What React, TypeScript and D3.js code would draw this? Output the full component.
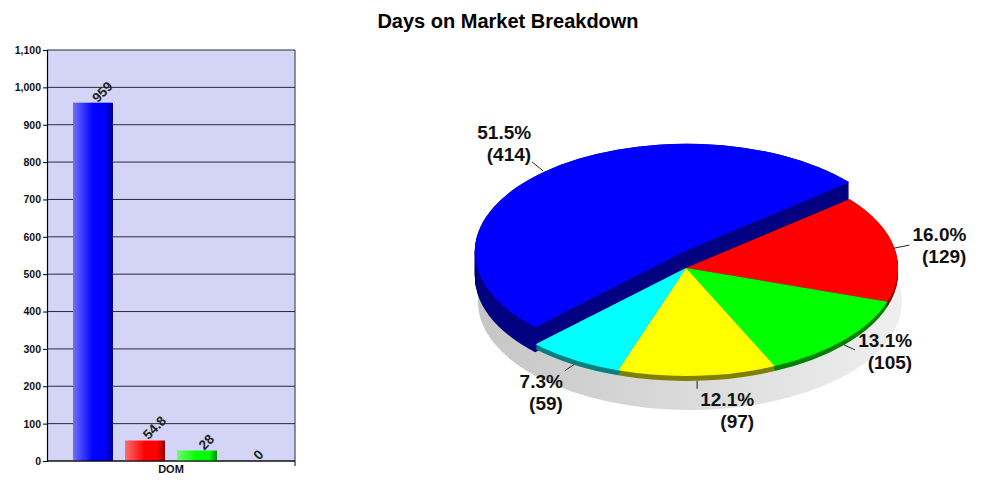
import React, { useRef, useEffect } from "react";
import * as d3 from "d3";

const WIDTH = 983;
const HEIGHT = 480;
const FONT = "'Liberation Sans', Arial, sans-serif";

const TITLE = "Days on Market Breakdown";

// bar panel
const barCategory = "DOM";
const barSeries = ["Series 1", "Series 2", "Series 3", "Series 4"];
const barValues = [959, 54.8, 28, 0];
const barColors = [
  ["#7070f8", "#0000ff", "#000090"],
  ["#f87070", "#ff0000", "#900000"],
  ["#70f870", "#00ff00", "#009000"],
  ["#7070f8", "#0000ff", "#000090"],
];

// pie panel
const pieValues = [129, 105, 97, 59, 414];
const piePercents = ["16.0%", "13.1%", "12.1%", "7.3%", "51.5%"];
const pieTop = ["#ff0000", "#00ff00", "#ffff00", "#00ffff", "#0000ff"];
const pieSide = ["#8b0000", "#008000", "#808000", "#008080", "#000080"];

const plot = { left: 47, right: 295, top: 50, bottom: 461 };
const pie3d = { cx: 686, cy: 268, rx: 212, ry: 108, depth: 5 };
const blueLift = { dx: -0.5, dy: -17, depth: 25 };
const shadow = { cx: 690, cy: 302 };
const START_ANGLE = (50.5 * Math.PI) / 180;

// leader end offset from the slice's mid point, and label anchor from that end
const labelLayout = [
  { lead: [15, -3], text: [57, -4] },
  { lead: [11, 5], text: [57, -3] },
  { lead: [0, 8], text: [57, 17] },
  { lead: [-9, 6], text: [-2, 17] },
  { lead: [-11, -9], text: [-1, -23] },
];

const App = () => {
  const yAxisRef = useRef<SVGGElement>(null);

  const y = d3.scaleLinear().domain([0, 1100]).range([plot.bottom, plot.top]);
  const x = d3
    .scaleBand()
    .domain(barSeries)
    .range([plot.left, plot.right])
    .paddingInner(12 / 52)
    .paddingOuter(0.5);

  useEffect(() => {
    const g = d3.select(yAxisRef.current);
    g.call(d3.axisLeft(y).ticks(11).tickFormat(d3.format(",")).tickSize(4).tickPadding(2));
    g.select(".domain").attr("stroke", "#000").attr("stroke-width", 1.2);
    g.selectAll(".tick line").attr("stroke", "#000");
    g.selectAll(".tick text")
      .attr("fill", "#111")
      .style("font", `bold 10.5px ${FONT}`);
  });

  const arcs = d3
    .pie<number>()
    .sort(null)
    .startAngle(START_ANGLE)
    .endAngle(START_ANGLE + Math.PI * 2)(pieValues);

  const unitArc = d3.arc<d3.PieArcDatum<number>>().innerRadius(0).outerRadius(1);

  const isBlue = (i: number) => i === pieValues.length - 1;

  const place = (i: number) =>
    isBlue(i)
      ? { cx: pie3d.cx + blueLift.dx, cy: pie3d.cy + blueLift.dy, depth: blueLift.depth }
      : { cx: pie3d.cx, cy: pie3d.cy, depth: pie3d.depth };

  const onRim = (a: number, i: number): [number, number] => {
    const p = place(i);
    return [p.cx + pie3d.rx * Math.sin(a), p.cy - pie3d.ry * Math.cos(a)];
  };

  const drawOrder = [4, 0, 1, 2, 3];

  return (
    <svg
      width={WIDTH}
      height={HEIGHT}
      style={{ position: "absolute", left: 0, top: 0, display: "block", background: "#fff" }}
    >
      <defs>
        {barColors.map((c, i) => (
          <linearGradient key={i} id={`bar${i}`} x1="0" x2="1" y1="0" y2="0">
            <stop offset="0" stopColor={c[0]} />
            <stop offset="0.5" stopColor={c[1]} />
            <stop offset="0.8" stopColor={c[1]} />
            <stop offset="1" stopColor={c[2]} />
          </linearGradient>
        ))}
        <linearGradient id="pieShadow" x1="0" x2="1" y1="0" y2="0">
          <stop offset="0" stopColor="#c6c6c6" />
          <stop offset="1" stopColor="#efefef" />
        </linearGradient>
      </defs>

      <text
        x={508}
        y={28}
        textAnchor="middle"
        fontFamily={FONT}
        fontWeight="bold"
        fontSize={20}
        fill="#000"
      >
        {TITLE}
      </text>

      {/* bar panel */}
      <rect
        x={plot.left}
        y={plot.top}
        width={plot.right - plot.left}
        height={plot.bottom - plot.top}
        fill="#d4d4f7"
      />
      {y.ticks(11).map((t) => (
        <line key={t} x1={plot.left} x2={plot.right} y1={y(t)} y2={y(t)} stroke="#2a2a3c" strokeWidth={1} />
      ))}
      <line x1={plot.right} x2={plot.right} y1={plot.top} y2={plot.bottom} stroke="#2a2a3c" />
      {barValues.map((v, i) => (
        <rect
          key={barSeries[i]}
          x={x(barSeries[i])}
          y={y(v)}
          width={x.bandwidth()}
          height={y(0) - y(v)}
          fill={`url(#bar${i})`}
        />
      ))}
      <g ref={yAxisRef} transform={`translate(${plot.left},0)`} />
      <line x1={plot.left} x2={plot.right} y1={plot.bottom} y2={plot.bottom} stroke="#000" strokeWidth={1.2} />
      <line x1={plot.right} x2={plot.right} y1={plot.bottom} y2={plot.bottom + 5} stroke="#000" />
      <text
        x={(plot.left + plot.right) / 2}
        y={plot.bottom + 12}
        textAnchor="middle"
        fontFamily={FONT}
        fontWeight="bold"
        fontSize={11}
        fill="#111"
      >
        {barCategory}
      </text>
      {barValues.map((v, i) => {
        const cx = (x(barSeries[i]) as number) + x.bandwidth() / 2;
        const rise = 4 + 2.2 * String(v).length;
        return (
          <text
            key={barSeries[i]}
            transform={`translate(${cx + 9.5},${y(v) - rise}) rotate(-45)`}
            textAnchor="middle"
            dominantBaseline="central"
            fontFamily={FONT}
            fontWeight="bold"
            fontSize={13.5}
            fill="#222"
          >
            {v}
          </text>
        );
      })}

      {/* pie panel */}
      <ellipse cx={shadow.cx} cy={shadow.cy} rx={pie3d.rx} ry={pie3d.ry} fill="url(#pieShadow)" />
      {/* walls: the slice shape stacked pixel by pixel down to its depth */}
      {drawOrder.map((i) => {
        const p = place(i);
        return (
          <g key={i} fill={pieSide[i]}>
            {d3.range(p.depth, -1, -1).map((k) => (
              <path
                key={k}
                d={unitArc(arcs[i]) as string}
                transform={`translate(${p.cx},${p.cy + k}) scale(${pie3d.rx},${pie3d.ry})`}
              />
            ))}
          </g>
        );
      })}
      {drawOrder.map((i) => {
        const p = place(i);
        return (
          <path
            key={i}
            d={unitArc(arcs[i]) as string}
            transform={`translate(${p.cx},${p.cy}) scale(${pie3d.rx},${pie3d.ry})`}
            fill={pieTop[i]}
          />
        );
      })}
      {arcs.map((d, i) => {
        const mid = (d.startAngle + d.endAngle) / 2;
        const [mx, my] = onRim(mid, i);
        const startY = Math.cos(mid) < 0 ? my + place(i).depth : my;
        const layout = labelLayout[i];
        const ex = mx + layout.lead[0];
        const ey = startY + layout.lead[1];
        const tx = ex + layout.text[0];
        const ty = ey + layout.text[1];
        return (
          <g key={i} fontFamily={FONT} fontWeight="bold" fontSize={19} fill="#111" textAnchor="end">
            <line x1={mx} y1={startY} x2={ex} y2={ey} stroke="#222" />
            <text x={tx} y={ty}>
              {piePercents[i]}
            </text>
            <text x={tx} y={ty + 22}>
              {`(${pieValues[i]})`}
            </text>
          </g>
        );
      })}
    </svg>
  );
};

export default App;
